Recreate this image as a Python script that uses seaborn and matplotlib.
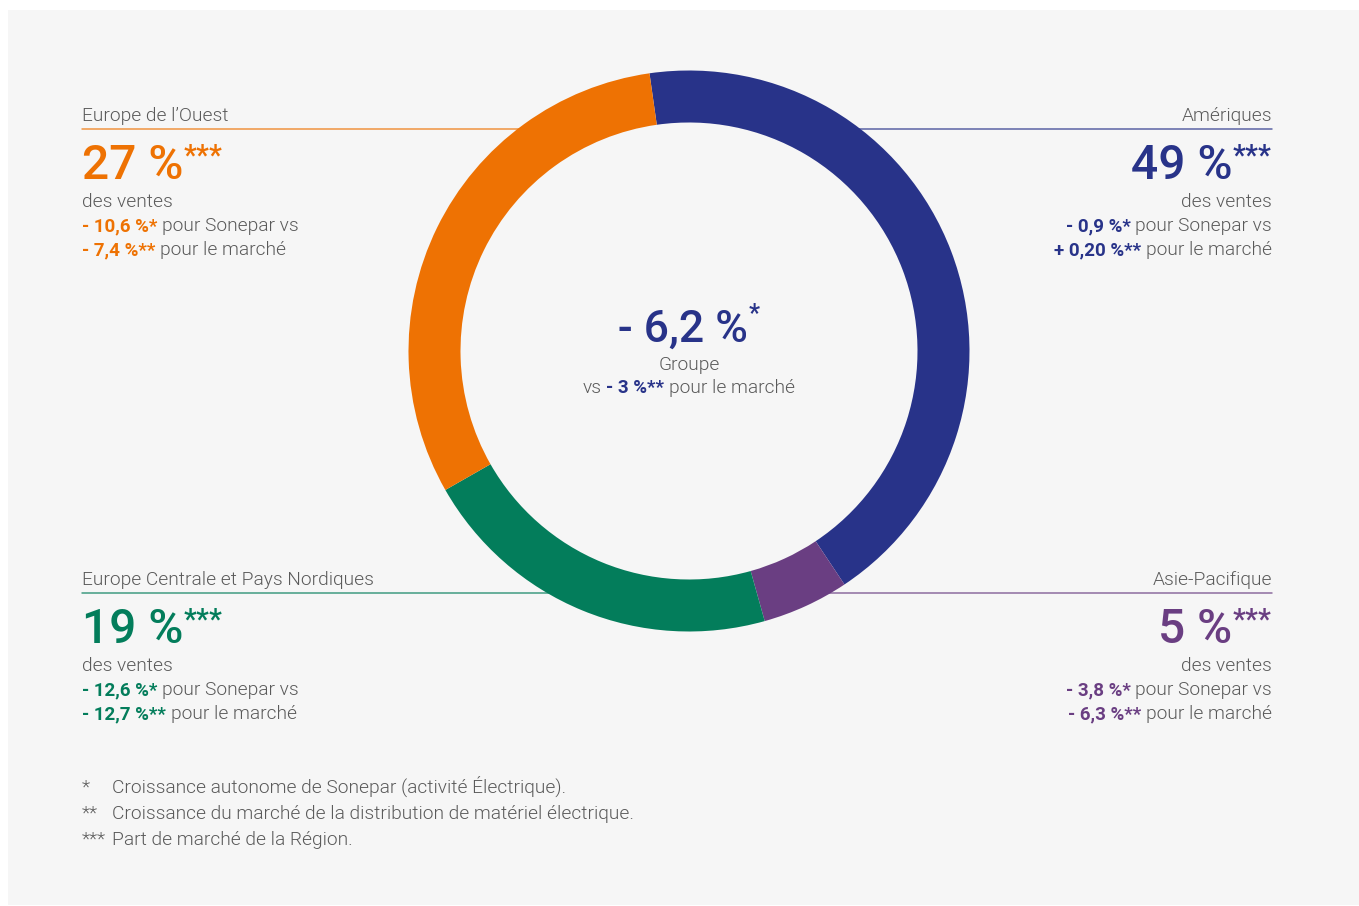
import matplotlib
matplotlib.use("Agg")
import matplotlib.pyplot as plt
import seaborn as sns
import numpy as np
from matplotlib.patches import Rectangle

# ---------------- data ----------------
regions = ["Amériques", "Asie-Pacifique", "Europe Centrale et Pays Nordiques", "Europe de l’Ouest"]
donut_shares = [42.9, 5.0, 21.1, 31.0]          # arc shares as drawn in the ring
colors = ["#283389", "#6A3E82", "#037D5B", "#EE7203"]
sales_share = ["49 %", "5 %", "19 %", "27 %"]
sonepar_growth = ["- 0,9 %*", "- 3,8 %*", "- 12,6 %*", "- 10,6 %*"]
market_growth = ["+ 0,20 %**", "- 6,3 %**", "- 12,7 %**", "- 7,4 %**"]
group_growth = "- 6,2 %"
group_market = "- 3 %**"
footnote_marks = ["*", "**", "***"]
footnote_texts = ["Croissance autonome de Sonepar (activité Électrique).",
                  "Croissance du marché de la distribution de matériel électrique.",
                  "Part de marché de la Région."]

# ---------------- style ----------------
sns.set_theme(style="white")
plt.rcParams["font.family"] = ["Roboto", "DejaVu Sans"]
GRAY = "#5A5A5A"
BODY = 13.8
BOLD = 13.5
LIGHT = 300

W, H = 1359, 906
fig = plt.figure(figsize=(W / 100, H / 100), dpi=100, facecolor="white")
bg = fig.add_axes([0, 0, 1, 1])
bg.set_xlim(0, W)
bg.set_ylim(H, 0)
bg.axis("off")
bg.set_zorder(1)
bg.add_patch(Rectangle((8, 10), W - 8, H - 11, facecolor="#F6F6F6", edgecolor="none", zorder=0))

# donut
cx, cy, R, RI = 689, 351, 280.5, 228.5
pax = fig.add_axes([(cx - R) / W, (H - cy - R) / H, 2 * R / W, 2 * R / H])
pax.set_zorder(2)
pax.pie(donut_shares, colors=colors, startangle=98.1, counterclock=False, radius=1,
        wedgeprops=dict(width=(R - RI) / R, linewidth=0))
pax.set_xlim(-1, 1)
pax.set_ylim(-1, 1)
pax.axis("off")
pax.patch.set_alpha(0)

renderer = fig.canvas.get_renderer()


def draw_parts(x, y, parts, ha="left", gap=True):
    """parts: list of (text, color, weight, size_pt, dy)"""
    texts, widths = [], []
    for txt, col, wt, sz, dy in parts:
        t = bg.text(0, y + dy, txt, color=col, fontweight=wt, fontsize=sz,
                    ha="left", va="baseline", zorder=5)
        texts.append(t)
        widths.append(t.get_window_extent(renderer=renderer).width)
    gaps = [(parts[i + 1][3] * 1.389 * 0.25 if gap else 0.5) for i in range(len(parts) - 1)]
    total = sum(widths) + sum(gaps)
    start = x if ha == "left" else (x - total if ha == "right" else x - total / 2)
    cur = start
    for i, t in enumerate(texts):
        t.set_x(cur)
        cur += widths[i] + (gaps[i] if i < len(gaps) else 0)
    return texts


def line_edge(y, side):
    d = np.sqrt(max(R ** 2 - (y - cy) ** 2, 0))
    return cx - d + 12 if side == "left" else cx + d - 12


# regional blocks: (side, x anchor, label baseline)
layout = {
    "Amériques": ("right", 1272, 121),
    "Asie-Pacifique": ("right", 1272, 585),
    "Europe Centrale et Pays Nordiques": ("left", 82, 585),
    "Europe de l’Ouest": ("left", 82, 121),
}

for i, reg in enumerate(regions):
    side, xa, yb = layout[reg]
    col = colors[i]
    ha = side
    bg.text(xa, yb, reg, color=GRAY, fontsize=BODY, fontweight=LIGHT, ha=ha, va="baseline", zorder=5)
    yl = yb + 8
    if side == "left":
        bg.plot([xa, line_edge(yl, "left")], [yl, yl], color=col, lw=1.1, alpha=0.75, zorder=1)
    else:
        bg.plot([line_edge(yl, "right"), xa], [yl, yl], color=col, lw=1.1, alpha=0.75, zorder=1)
    # big number with superscript stars
    draw_parts(xa, yb + 58, [(sales_share[i], col, 500, 34.5, 0),
                             ("***", col, 500, 21, -15)], ha=ha, gap=False)
    bg.text(xa, yb + 86, "des ventes", color=GRAY, fontsize=BODY, fontweight=LIGHT,
            ha=ha, va="baseline", zorder=5)
    draw_parts(xa, yb + 110, [(sonepar_growth[i], col, "bold", BOLD, 0),
                              ("pour Sonepar vs", GRAY, LIGHT, BODY, 0)], ha=ha)
    draw_parts(xa, yb + 134, [(market_growth[i], col, "bold", BOLD, 0),
                              ("pour le marché", GRAY, LIGHT, BODY, 0)], ha=ha)

# centre
draw_parts(cx, 342, [(group_growth, colors[0], 500, 32, 0),
                     ("*", colors[0], 500, 18, -20)], ha="center", gap=False)
bg.text(cx, 370, "Groupe", color=GRAY, fontsize=BODY, fontweight=LIGHT,
        ha="center", va="baseline", zorder=5)
draw_parts(cx, 393, [("vs", GRAY, LIGHT, BODY, 0),
                     (group_market, colors[0], "bold", BOLD, 0),
                     ("pour le marché", GRAY, LIGHT, BODY, 0)], ha="center")

# footnotes
for k, (m, t) in enumerate(zip(footnote_marks, footnote_texts)):
    yy = 793 + 26 * k
    bg.text(82, yy, m, color=GRAY, fontsize=BODY, fontweight=LIGHT, ha="left", va="baseline", zorder=5)
    bg.text(112, yy, t, color=GRAY, fontsize=BODY, fontweight=LIGHT, ha="left", va="baseline", zorder=5)

fig.savefig("out.png", dpi=100, facecolor="white")
